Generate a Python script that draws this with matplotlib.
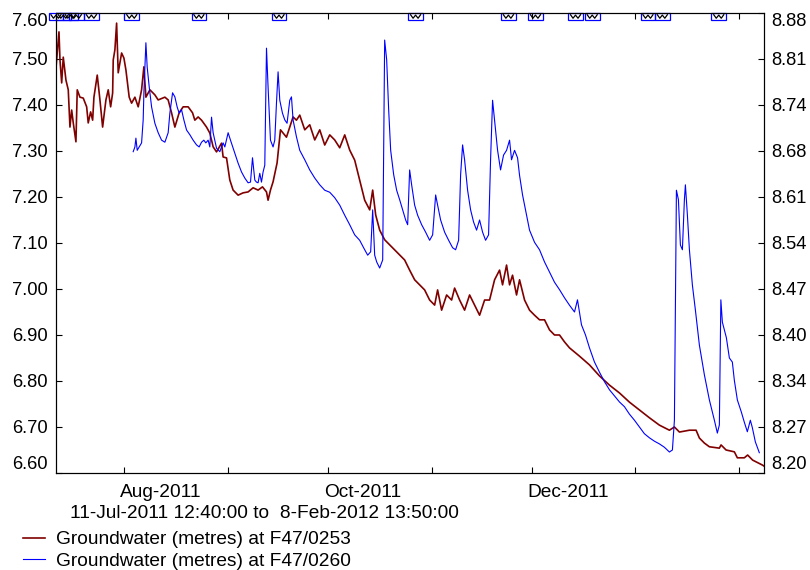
import numpy as np
import pandas as pd
import matplotlib
matplotlib.use('Agg')
import matplotlib.pyplot as plt
import matplotlib.dates as mdates
from matplotlib.patches import Rectangle
from matplotlib.transforms import blended_transform_factory, ScaledTranslation

plt.rcParams['font.family'] = ['Liberation Sans', 'DejaVu Sans']

start = pd.Timestamp('2011-07-11 12:40')
end = pd.Timestamp('2012-02-08 13:50')

# F47/0253 - dias desde el inicio y nivel (eje izquierdo)
days_0253 = [0.0, 0.9, 1.2, 1.71, 2.18, 2.99, 3.68, 4.19, 4.7, 5.18, 5.98, 6.37, 7.18, 8.17,
             9.19, 9.66, 10.38, 10.98, 11.37, 12.36, 13.17, 13.97, 14.96, 15.65, 16.37, 16.97,
             17.15, 17.65, 18.16, 18.64, 19.66, 20.35, 20.95, 21.93, 22.65, 23.64, 24.63, 25.64,
             26.33, 26.93, 28.13, 29.62, 30.61, 32.62, 33.6, 34.62, 35.61, 36.89, 38.09, 39.59,
             40.9, 41.59, 42.58, 43.6, 45.09, 46.08, 47.07, 48.09, 49.58, 50.06, 51.08, 52.06,
             53.05, 54.55, 56.04, 57.54, 59.04, 60.53, 61.85, 63.05, 63.52, 64.24, 65.02, 66.22,
             66.82, 67.24, 68.01, 69.03, 70.02, 71.01, 72.02, 73.01, 74.51, 76.0, 77.5, 79.0,
             80.49, 81.99, 83.48, 84.98, 86.48, 87.97, 89.47, 90.96, 92.46, 93.96, 94.85, 95.75,
             96.95, 98.44, 99.94, 101.44, 102.93, 104.43, 105.92, 107.42, 108.92, 110.41, 111.91,
             113.41, 114.3, 115.5, 117.0, 118.49, 119.39, 120.89, 122.38, 123.88, 125.37, 126.87,
             128.37, 129.86, 131.36, 132.85, 133.75, 134.95, 135.85, 136.74, 137.94, 138.84,
             140.34, 141.83, 143.33, 144.82, 146.32, 147.82, 149.31, 150.81, 152.3, 153.8, 155.3,
             156.79, 159.78, 162.78, 165.77, 168.76, 171.75, 174.75, 177.74, 180.73, 183.72,
             185.22, 186.72, 189.71, 191.71, 192.7, 194.2, 195.69, 198.68, 199.19, 200.69, 203.17,
             204.07, 206.16, 207.15, 208.65, 211.64, 212.05]
level_0253 = [7.48, 7.559, 7.498, 7.448, 7.504, 7.454, 7.433, 7.352, 7.389, 7.361, 7.32, 7.433,
              7.417, 7.415, 7.396, 7.361, 7.385, 7.367, 7.417, 7.465, 7.411, 7.352, 7.411, 7.433,
              7.396, 7.426, 7.498, 7.52, 7.578, 7.47, 7.513, 7.502, 7.476, 7.417, 7.404, 7.417,
              7.396, 7.433, 7.483, 7.417, 7.433, 7.422, 7.411, 7.417, 7.411, 7.383, 7.352, 7.383,
              7.396, 7.396, 7.383, 7.367, 7.374, 7.367, 7.352, 7.339, 7.309, 7.298, 7.317, 7.287,
              7.285, 7.237, 7.215, 7.204, 7.209, 7.211, 7.22, 7.215, 7.222, 7.211, 7.193, 7.215,
              7.233, 7.274, 7.317, 7.346, 7.339, 7.33, 7.352, 7.374, 7.367, 7.378, 7.346, 7.357,
              7.324, 7.346, 7.313, 7.335, 7.324, 7.307, 7.335, 7.302, 7.28, 7.237, 7.193, 7.172,
              7.215, 7.161, 7.128, 7.107, 7.096, 7.085, 7.074, 7.063, 7.041, 7.02, 7.009, 6.998,
              6.976, 6.965, 6.998, 6.954, 6.987, 6.976, 7.002, 6.976, 6.954, 6.987, 6.965, 6.943,
              6.976, 6.976, 7.02, 7.041, 7.009, 7.052, 7.009, 7.03, 6.987, 7.02, 6.976, 6.954,
              6.943, 6.933, 6.933, 6.911, 6.9, 6.9, 6.885, 6.872, 6.863, 6.854, 6.835, 6.811,
              6.791, 6.774, 6.754, 6.737, 6.72, 6.704, 6.693, 6.7, 6.689, 6.693, 6.693, 6.676,
              6.665, 6.657, 6.654, 6.661, 6.65, 6.646, 6.633, 6.633, 6.639, 6.628, 6.617, 6.615]

# F47/0260 - dias desde el inicio y nivel (eje derecho)
days_0260 = [23.13, 23.64, 23.94, 24.33, 24.93, 25.64, 26.12, 26.33, 26.93, 27.32, 27.92, 28.64,
             29.62, 30.61, 31.63, 32.62, 33.6, 34.11, 34.92, 35.61, 36.3, 36.89, 37.61, 38.3,
             39.11, 40.1, 41.08, 42.1, 42.88, 43.6, 44.28, 44.88, 45.57, 46.08, 46.59, 47.07,
             48.09, 49.07, 50.06, 50.57, 51.56, 52.27, 53.56, 54.55, 55.57, 56.55, 57.54, 58.26,
             58.86, 59.55, 60.05, 60.53, 61.04, 61.55, 62.03, 62.54, 63.05, 63.52, 64.24, 65.02,
             65.53, 66.04, 66.52, 67.03, 67.83, 68.52, 69.21, 70.02, 70.53, 71.01, 72.02, 73.01,
             74.51, 76.0, 77.5, 79.0, 80.49, 81.99, 83.48, 84.98, 86.48, 87.97, 89.47, 90.96,
             92.46, 93.36, 94.25, 94.85, 95.45, 96.05, 96.95, 97.85, 98.44, 99.04, 99.64, 100.24,
             101.14, 102.03, 102.93, 103.83, 104.73, 105.33, 105.92, 106.52, 107.42, 108.32,
             109.52, 110.71, 111.91, 112.81, 113.71, 114.3, 115.2, 116.4, 117.6, 118.79, 119.69,
             120.59, 121.19, 121.78, 122.38, 123.28, 124.18, 125.07, 125.97, 126.87, 127.77,
             128.67, 129.56, 130.16, 130.76, 131.36, 132.26, 133.15, 134.05, 134.95, 135.85,
             136.44, 137.34, 138.24, 138.84, 139.74, 140.93, 141.83, 143.33, 144.82, 146.32,
             147.82, 149.31, 150.81, 152.3, 153.8, 155.3, 156.19, 157.39, 158.59, 159.78, 161.28,
             162.78, 164.27, 165.77, 167.26, 168.76, 170.26, 171.75, 173.25, 174.75, 176.24,
             177.74, 179.23, 180.73, 182.23, 183.72, 184.62, 185.22, 185.82, 186.42, 187.01,
             187.61, 188.21, 188.51, 189.11, 189.71, 190.6, 191.5, 192.7, 194.2, 195.69, 197.19,
             198.08, 198.68, 199.13, 199.58, 200.78, 201.68, 202.57, 203.17, 204.07, 205.27,
             206.16, 207.06, 207.96, 208.56, 209.46, 210.65]
level_0260 = [8.675, 8.682, 8.695, 8.677, 8.682, 8.688, 8.722, 8.762, 8.836, 8.8, 8.771, 8.741,
              8.717, 8.703, 8.692, 8.689, 8.703, 8.732, 8.762, 8.756, 8.741, 8.732, 8.737, 8.722,
              8.707, 8.7, 8.692, 8.685, 8.682, 8.689, 8.692, 8.688, 8.692, 8.682, 8.726, 8.703,
              8.68, 8.675, 8.688, 8.682, 8.703, 8.692, 8.673, 8.658, 8.645, 8.636, 8.629, 8.63,
              8.666, 8.633, 8.63, 8.629, 8.643, 8.63, 8.645, 8.655, 8.828, 8.771, 8.692, 8.682,
              8.692, 8.747, 8.793, 8.751, 8.732, 8.722, 8.717, 8.751, 8.756, 8.722, 8.697, 8.677,
              8.663, 8.648, 8.636, 8.626, 8.618, 8.615, 8.607, 8.596, 8.581, 8.567, 8.552, 8.544,
              8.53, 8.522, 8.527, 8.589, 8.522, 8.512, 8.503, 8.515, 8.84, 8.811, 8.737, 8.677,
              8.641, 8.618, 8.604, 8.589, 8.574, 8.567, 8.648, 8.626, 8.596, 8.581, 8.567, 8.556,
              8.544, 8.552, 8.611, 8.596, 8.574, 8.556, 8.544, 8.533, 8.53, 8.544, 8.641, 8.685,
              8.663, 8.618, 8.589, 8.571, 8.559, 8.574, 8.556, 8.544, 8.552, 8.663, 8.751, 8.722,
              8.677, 8.648, 8.67, 8.677, 8.692, 8.663, 8.677, 8.666, 8.64, 8.611, 8.581, 8.559,
              8.541, 8.53, 8.512, 8.497, 8.482, 8.471, 8.459, 8.448, 8.438, 8.456, 8.419, 8.404,
              8.385, 8.364, 8.349, 8.335, 8.323, 8.314, 8.305, 8.298, 8.287, 8.278, 8.268, 8.258,
              8.252, 8.247, 8.243, 8.238, 8.231, 8.234, 8.278, 8.618, 8.604, 8.537, 8.53, 8.604,
              8.626, 8.581, 8.53, 8.478, 8.441, 8.389, 8.345, 8.308, 8.278, 8.259, 8.271, 8.456,
              8.423, 8.4, 8.37, 8.364, 8.337, 8.308, 8.29, 8.275, 8.261, 8.278, 8.267, 8.246, 8.23]

# marcas de eventos en el borde superior (dias desde el inicio)
event_days = [0.0, 2.2, 4.3, 6.1, 10.6, 22.7, 42.8, 66.8, 107.7, 135.5, 143.6, 155.6, 160.6,
              177.3, 181.6, 198.5]

left_ticks = np.linspace(6.60, 7.60, 11)
right_ticks = np.linspace(8.20, 8.88, 11)
month_labels = ['Aug-2011', 'Oct-2011', 'Dec-2011']
month_label_dates = ['2011-08-01', '2011-10-01', '2011-12-01']

t_0253 = start + pd.to_timedelta(days_0253, unit='D')
t_0260 = start + pd.to_timedelta(days_0260, unit='D')
t_events = mdates.date2num(start + pd.to_timedelta(event_days, unit='D'))

fig = plt.figure(figsize=(8.1, 5.7), dpi=100)
ax = fig.add_axes([0.0691, 0.1702, 0.8741, 0.8070])
ax2 = ax.twinx()

l1, = ax.plot(t_0253, level_0253, color='#800000', lw=1.2,
              label='Groundwater (metres) at F47/0253')
l2, = ax2.plot(t_0260, level_0260, color='#0000ff', lw=0.8,
               label='Groundwater (metres) at F47/0260')

ax.set_xlim(start, end)
ax.set_ylim(6.60, 7.60)
ax2.set_ylim(8.20, 8.88)

ax.xaxis.set_major_locator(mdates.MonthLocator())
ax.xaxis.set_major_formatter(plt.NullFormatter())
ax.tick_params(axis='x', direction='in', top=True, length=4, width=0.8)
ax.tick_params(axis='y', direction='in', length=4, width=0.8, labelsize=13.2, pad=6)
ax2.tick_params(axis='y', direction='in', length=4, width=0.8, labelsize=13.2, pad=5)

ax.set_yticks(left_ticks)
lab = ax.set_yticklabels(['%.2f' % v for v in left_ticks])
lab[0].set_va('bottom')
lab[-1].set_va('top')
ax2.set_yticks(right_ticks)
lab2 = ax2.set_yticklabels(['%.2f' % v for v in right_ticks])
lab2[0].set_va('bottom')
lab2[-1].set_va('top')

for a in (ax, ax2):
    for s in a.spines.values():
        s.set_linewidth(0.8)

# etiquetas de meses alineadas a la izquierda de cada marca
trans_x = blended_transform_factory(ax.transData, ax.transAxes)
off = ScaledTranslation(-0.04, -0.115, fig.dpi_scale_trans)
for txt, d in zip(month_labels, month_label_dates):
    ax.text(mdates.date2num(pd.Timestamp(d)), 0, txt, transform=trans_x + off,
            ha='left', va='top', fontsize=13.8)

# marcas de eventos
h = 0.0152
for x in t_events:
    ax.add_patch(Rectangle((x - 2.2, 1 - h), 4.4, h, transform=trans_x, fill=False,
                           ec='#0000ff', lw=0.9, clip_on=False, zorder=5))
    ax.plot(x + np.array([-1.5, -0.75, 0, 0.75, 1.5]),
            1 - h * np.array([0.25, 0.75, 0.3, 0.75, 0.25]),
            transform=trans_x, color='black', lw=0.9, clip_on=False, zorder=6)

fig.text(70 / 810, 1 - 513 / 570, '11-Jul-2011 12:40:00 to  8-Feb-2012 13:50:00',
         ha='left', va='center', fontsize=13.8)

fig.legend(handles=[l1, l2], loc='upper left', bbox_to_anchor=(23 / 810, 1 - 531 / 570),
           frameon=False, fontsize=13.8, handlelength=1.15, handletextpad=0.55,
           labelspacing=0.22, borderpad=0, borderaxespad=0)

fig.savefig('out.png', dpi=100)
